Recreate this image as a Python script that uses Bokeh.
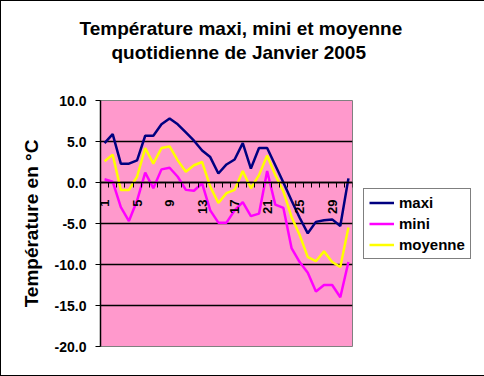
from math import pi
from bokeh.plotting import figure
from bokeh.models import Range1d, FixedTicker, PrintfTickFormatter, Legend, LegendItem, Title, LinearAxis
from bokeh.embed import file_html
from bokeh.resources import INLINE

days = list(range(1, 32))
maxi = [4.8, 5.9, 2.3, 2.3, 2.7, 5.7, 5.7, 7.1, 7.8, 7.1, 6.1, 5.1, 3.9, 3.1, 1.1, 2.2,
        2.8, 4.8, 1.7, 4.2, 4.2, 2.1, 0.0, -2.2, -4.3, -6.2, -4.8, -4.6, -4.5, -5.3, 0.5]
mini = [0.4, 0.1, -3.0, -4.7, -2.2, 1.2, -0.7, 1.6, 1.8, 0.7, -0.9, -1.0, -0.1, -3.4, -4.9, -4.9,
        -3.4, -2.4, -4.1, -3.8, 1.4, -2.7, -3.1, -8.0, -9.7, -11.0, -13.3, -12.5, -12.5, -14.0, -9.7]
moyenne = [2.6, 3.4, -0.9, -0.9, 0.7, 4.2, 2.3, 4.2, 4.4, 2.7, 1.3, 2.1, 2.5, -0.5, -2.5, -1.3,
           -0.9, 1.4, -0.7, 0.9, 3.3, 0.9, -1.1, -4.2, -6.4, -9.1, -9.6, -8.4, -9.7, -10.3, -5.5]
x_tick_days = [1, 5, 9, 13, 17, 21, 25, 29]
y_ticks = [-20, -15, -10, -5, 0, 5, 10]
series_names = ["maxi", "mini", "moyenne"]
series_colors = ["#000080", "#FF00FF", "#FFFF00"]
title_lines = ["Température maxi, mini et moyenne", "quotidienne de Janvier 2005"]
y_label = "Température en °C"

FONT = "Liberation Sans"

p = figure(frame_width=252, frame_height=246, output_backend="svg", toolbar_location=None,
           x_range=Range1d(0.5, 31.5), y_range=Range1d(-20, 10),
           min_border_left=100, min_border_right=132, min_border_top=100, min_border_bottom=30)
p.styles = {"box-shadow": "inset 0 0 0 1px black", "background-color": "white"}
p.background_fill_color = "#FF99CC"
p.border_fill_color = "white"
p.border_fill_alpha = 0.0
p.outline_line_color = "#808080"

# grid
p.xgrid.visible = False
p.ygrid.ticker = FixedTicker(ticks=y_ticks)
p.ygrid.grid_line_color = "black"
p.ygrid.grid_line_width = 1.5

# y axis
p.yaxis.ticker = FixedTicker(ticks=y_ticks)
p.yaxis.formatter = PrintfTickFormatter(format="%.1f")
p.yaxis.major_label_text_font = FONT
p.yaxis.major_label_text_font_style = "bold"
p.yaxis.major_label_text_font_size = "14px"
p.yaxis.major_label_text_color = "black"
p.yaxis.axis_line_color = "black"
p.yaxis.axis_line_width = 1.5
p.yaxis.major_tick_out = 5
p.yaxis.major_tick_in = 0
p.yaxis.major_tick_line_color = "black"
p.yaxis.major_tick_line_width = 1
p.yaxis.minor_tick_line_color = None
p.yaxis.major_label_standoff = 9
p.yaxis.axis_label = y_label
p.yaxis.axis_label_text_font = FONT
p.yaxis.axis_label_text_font_style = "bold"
p.yaxis.axis_label_text_font_size = "19px"
p.yaxis.axis_label_text_color = "black"
p.yaxis.axis_label_standoff = 10

# x axis
p.xaxis.ticker = FixedTicker(ticks=x_tick_days, minor_ticks=[d - 0.5 for d in days] + [days[-1] + 0.5])
p.xaxis.fixed_location = 0
p.xaxis.major_label_orientation = pi / 2
p.xaxis.major_label_text_font = FONT
p.xaxis.major_label_text_font_style = "bold"
p.xaxis.major_label_text_font_size = "13px"
p.xaxis.major_label_text_color = "black"
p.xaxis.major_tick_out = 0
p.xaxis.major_tick_in = 0
p.xaxis.major_tick_line_color = None
p.xaxis.minor_tick_out = 5
p.xaxis.minor_tick_in = 0
p.xaxis.minor_tick_line_color = "black"
p.xaxis.minor_tick_line_width = 1
p.xaxis.axis_line_color = "black"
p.xaxis.axis_line_width = 1.5
p.xaxis.major_label_standoff = 12

renderers = []
for vals, color in zip([maxi, mini, moyenne], series_colors):
    renderers.append(p.line(days, vals, line_color=color, line_width=2.5))

legend = Legend(items=[LegendItem(label=n, renderers=[r]) for n, r in zip(series_names, renderers)],
                location=(11, 87), orientation="vertical",
                border_line_color="black", border_line_width=1,
                background_fill_color="white", background_fill_alpha=1.0,
                padding=5, spacing=4, margin=0, glyph_width=25, glyph_height=17,
                label_height=17, label_standoff=5,
                label_text_font=FONT, label_text_font_style="bold",
                label_text_font_size="15px", label_text_color="black")
p.add_layout(legend, "right")

# invisible spacer between the frame and the two-line title
spacer = LinearAxis(ticker=FixedTicker(ticks=[16]), major_label_overrides={16: ""},
                    major_tick_out=37, major_tick_in=0, major_label_standoff=0,
                    major_label_text_font_size="1px",
                    axis_line_color=None, major_tick_line_color=None,
                    minor_tick_line_color=None)
p.add_layout(spacer, "above")

p.title.visible = False
p.add_layout(Title(text=title_lines[1], align="left", offset=11, standoff=2,
                   text_font=FONT, text_font_style="bold", text_font_size="19px",
                   text_color="black"), "above")
p.add_layout(Title(text=title_lines[0], align="left", offset=-21, standoff=0,
                   text_font=FONT, text_font_style="bold", text_font_size="19px",
                   text_color="black"), "above")

open("out.html", "w").write(file_html(p, INLINE))
